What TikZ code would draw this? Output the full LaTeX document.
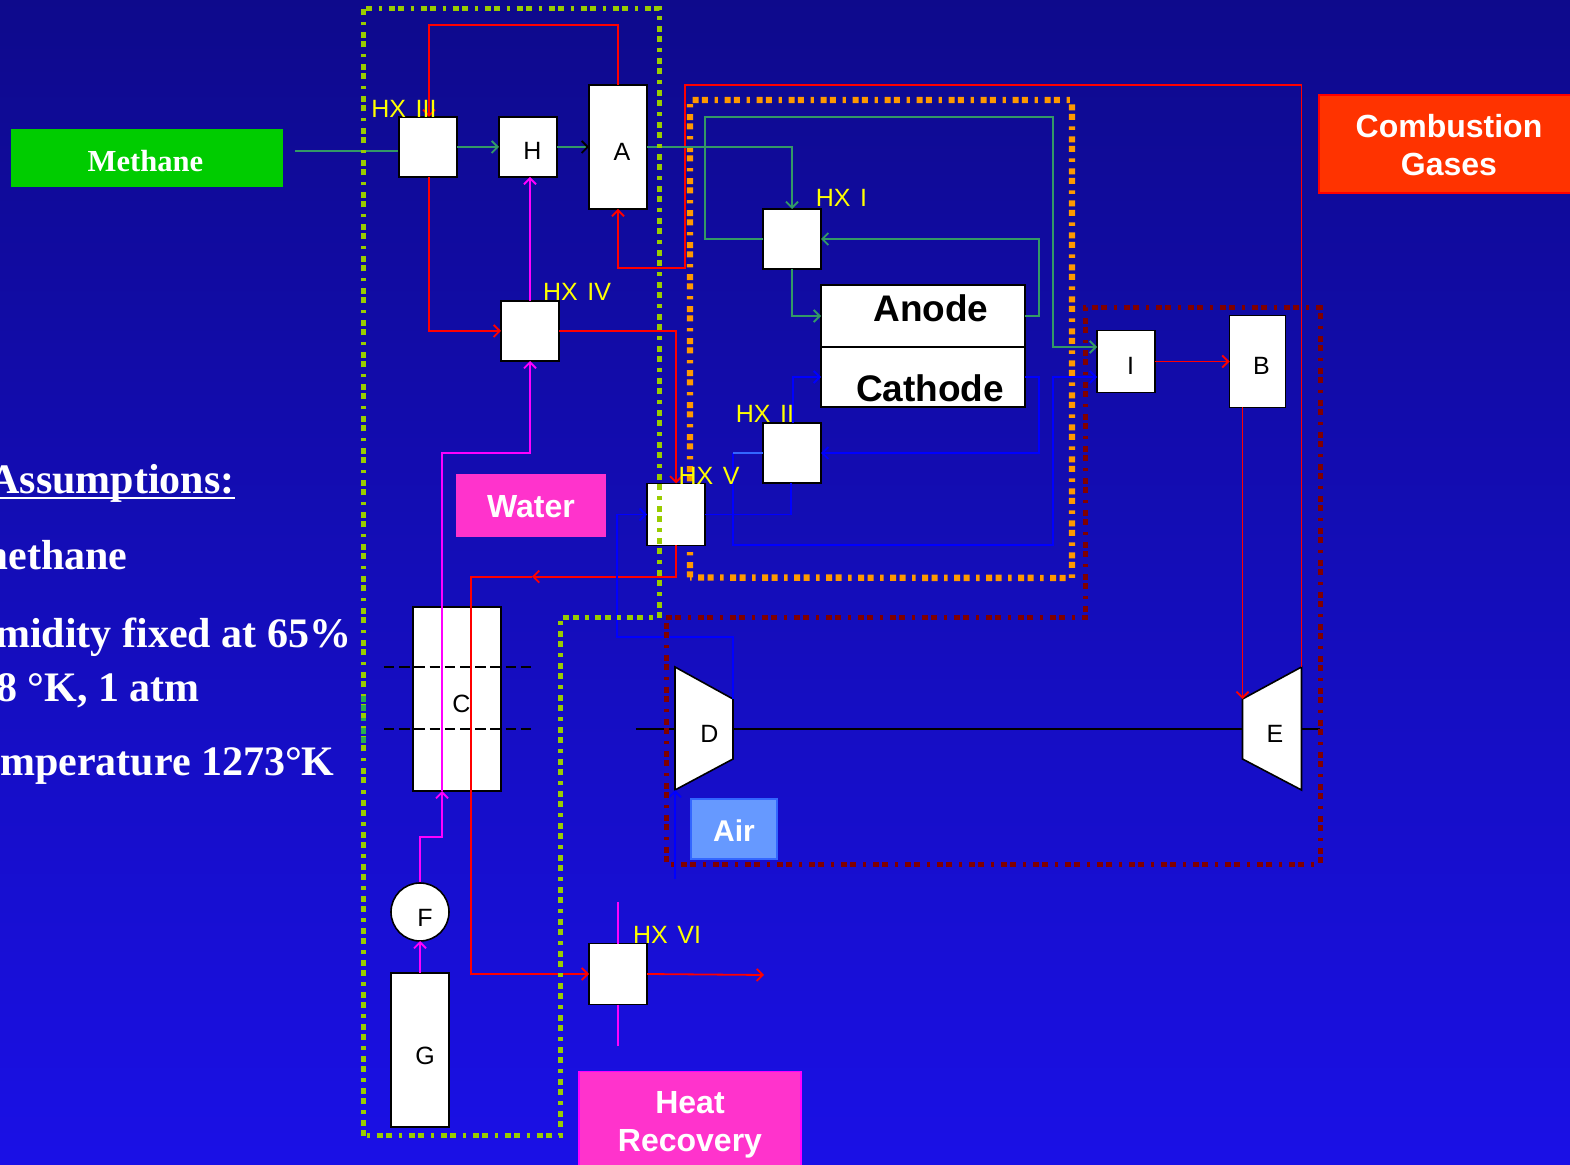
\documentclass[tikz,border=0pt]{standalone}
\usepackage{fontspec}
\setmainfont{Liberation Serif}
\setsansfont{Liberation Sans}
\usetikzlibrary{arrows.meta}
\definecolor{bgtop}{HTML}{0E0A8C}
\definecolor{bgbot}{HTML}{1A10E6}
\definecolor{fgreen}{HTML}{99CC00}
\definecolor{forange}{HTML}{FF9900}
\definecolor{fdark}{HTML}{800000}
\definecolor{lgreen}{HTML}{339966}
\definecolor{lblue}{HTML}{0000FF}
\definecolor{lblue2}{HTML}{3366FF}
\definecolor{lmag}{HTML}{FF00FF}
\definecolor{hxyellow}{HTML}{FFFF00}
\definecolor{tagmeth}{HTML}{00CC00}
\definecolor{tagcomb}{HTML}{FF3300}
\definecolor{tagpink}{HTML}{FF33CC}
\definecolor{tagair}{HTML}{6699FF}
\newcommand{\hxsp}{\hspace{4.8pt}}
\tikzset{
  x=0.5pt,y=-0.5pt,
  tipb/.tip={Straight Barb[length=3pt,width=6pt]},
  box/.style={draw=black,fill=white,line width=0.8pt,inner sep=0pt,outer sep=0pt},
  ghost/.style={inner sep=0pt,outer sep=0pt},
  letter/.style={anchor=base,font=\sffamily\fontsize{12.5}{12.5}\selectfont,text=black,inner sep=0pt},
  cell/.style={anchor=base,font=\sffamily\bfseries\fontsize{18.5}{18.5}\selectfont,text=black,inner sep=0pt},
  hxl/.style={anchor=base,font=\sffamily\fontsize{12.5}{12.5}\selectfont,text=hxyellow,inner sep=0pt},
  tag/.style={inner sep=0pt,outer sep=0pt,align=center,text=white,line width=0.8pt,font=\sffamily\bfseries\fontsize{16}{19}\selectfont},
  note/.style={anchor=base east,font=\bfseries\fontsize{21}{21}\selectfont,text=white,inner sep=0pt},
  flow/.style={line width=0.9pt},
  redl/.style={flow,draw=red},
  greenl/.style={flow,draw=lgreen},
  bluel/.style={flow,draw=lblue},
  magl/.style={flow,draw=lmag},
  frameb/.style={line width=2.5pt,dash pattern=on 3pt off 1.67pt on 3pt off 3.33pt on 1.67pt off 3.33pt},
}
\begin{document}
\begin{tikzpicture}
\useasboundingbox (0,0) rectangle (1570,1165);
\clip (0,0) rectangle (1570,1165);
\shade[top color=bgtop,bottom color=bgbot] (0,0) rectangle (1570,1165);

% orange frame lies beneath the boxes
\draw[frameb,draw=forange,line width=3.2pt] (690,577.5) -- (690,100) -- (1072,100) -- (1072,578) -- cycle;

\node[box,minimum width=44pt,minimum height=92pt] (C) at (457,699) {};

% ghost nodes for turbines
\node[ghost,minimum width=29pt,minimum height=61.5pt] (D) at (704,728.5) {};
\node[ghost,minimum width=29.5pt,minimum height=61.5pt] (E) at (1272,728.5) {};

% shaft and cuts
\coordinate (shaftL) at (636,729);
\coordinate (shaftR) at (1320,729);
\draw[line width=0.9pt] (shaftL) -- (shaftR);
\coordinate (cutAL) at (384,667); \coordinate (cutAR) at (532,667);
\coordinate (cutBL) at (384,729); \coordinate (cutBR) at (532,729);
\draw[line width=0.8pt,dash pattern=on 5.2pt off 2.4pt] (cutAL) -- (cutAR);
\draw[line width=0.8pt,dash pattern=on 5.2pt off 2.4pt] (cutBL) -- (cutBR);

% boxes
\node[box,minimum width=29pt,minimum height=30pt] (hxiii) at (428,147) {};
\node[box,minimum width=29pt,minimum height=30pt] (H) at (528,147) {};
\node[box,minimum width=29pt,minimum height=62pt] (A) at (618,147) {};
\node[box,minimum width=29pt,minimum height=30pt] (hxiv) at (530,331) {};
\node[box,minimum width=29pt,minimum height=30pt] (hxi) at (792,239) {};
\node[box,minimum width=102pt,minimum height=31pt] (anode) at (923,316) {};
\node[box,minimum width=102pt,minimum height=30pt] (cathode) at (923,377) {};
\node[box,minimum width=29pt,minimum height=30pt] (hxii) at (792,453) {};
\node[box,minimum width=29pt,minimum height=31pt] (hxv) at (676,514.5) {};
\node[box,minimum width=29pt,minimum height=31pt] (I) at (1126,361.5) {};
\node[box,minimum width=28pt,minimum height=46pt] (B) at (1257.5,361.5) {};
\node[box,circle,minimum size=29pt] (F) at (420,912) {};
\node[box,minimum width=29pt,minimum height=77pt] (G) at (420,1050) {};
\node[box,minimum width=29pt,minimum height=30.5pt] (hxvi) at (618,974) {};
\draw[box] (D.north west) -- (D.east |- 0,699) -- (D.east |- 0,759) -- (D.south west) -- cycle;
\draw[box] (E.north east) -- (E.west |- 0,699) -- (E.west |- 0,759) -- (E.south east) -- cycle;

% ports
\coordinate (iTop) at (I.west |- 0,347);
\coordinate (iLow) at (I.west |- 0,377);
\coordinate (bOut) at (1242.5,407);
\coordinate (eIn) at (1242.5,699);
\coordinate (cIn) at (442,791);
\coordinate (hxvOut) at (764,975);
\coordinate (waterT) at (618,902);
\coordinate (waterB) at (618,1046);
\coordinate (ch4) at (295,151);
\coordinate (airIn) at (675,879);
\coordinate (dTop) at (D.east |- 0,699);
\coordinate (hxiiUp) at (793,423);
\coordinate (hxvDn) at (791,483);
\coordinate (fTop) at (420,882);

% red
\draw[redl,-{tipb}] (E.north east) -- (1301.5,85) -- (685,85) -- (685,268) -| (A.south);
\draw[redl,-{tipb}] (A.north) -- (618,25) -- (429,25) -- (429,117);
\draw[redl,-{tipb}] (429,177) -- (429,331) -- (hxiv.west);
\draw[redl,-{tipb}] (hxiv.east) -- (676,331) -- (hxv.north);
\draw[redl,-{tipb}] (hxv.south) -- (676,576.7) -- (532,576.7);
\draw[redl,-{tipb}] (532,576.7) -- (471,576.7) -- (471,974) -- (hxvi.west);
\draw[redl,-{tipb}] (hxvi.east) -- (hxvOut);
\draw[redl,-{tipb}] (I.east) -- (B.west);
\draw[redl,-{tipb}] (bOut) -- (eIn);

% green
\draw[greenl] (ch4) -- (398,151);
\draw[greenl,-{tipb}] (hxiii.east) -- (H.west);
\draw[greenl,-{tipb[black]}] (H.east) -- (A.west);
\draw[greenl,-{tipb}] (A.east) -| (hxi.north);
\draw[greenl,-{tipb}] (hxi.south) |- (anode.west);
\draw[greenl,-{tipb}] (anode.east) -- (1038.7,316) -- (1038.7,239) -- (hxi.east);
\draw[greenl,-{tipb}] (hxi.west) -- (705,239) -- (705,117) -- (1052.7,117) -- (1052.7,347) -- (iTop);

% magenta
\draw[magl,-{tipb}] (G.north) -- (F.south);
\draw[magl,-{tipb}] (fTop) -- (420,837) -- (442,837) -- (cIn);
\draw[magl,-{tipb}] (cIn) -- (442,453) -- (530,453) -- (hxiv.south);
\draw[magl,-{tipb}] (hxiv.north) -- (hxiv.north |- H.south);
\draw[magl] (waterT) -- (hxvi.north);
\draw[magl] (hxvi.south) -- (waterB);

% blue
\draw[bluel,-{tipb}] (airIn) -- (D.south west);
\draw[bluel,-{tipb}] (dTop) -- (733,637) -- (617,637) -- (617,514.5) -- (hxv.west);
\draw[bluel] (hxv.east) -- (791,514.5) -- (hxvDn);
\draw[bluel,-{tipb}] (hxiiUp) -- (793,377) -- (cathode.west);
\draw[bluel,-{tipb}] (cathode.east) -- (1038.7,377) -- (1038.7,453) -- (hxii.east);
\draw[bluel,-{tipb}] (733,453) -- (733,545) -- (1052.7,545) -- (1052.7,377) -- (iLow);
\draw[flow,draw=lblue2] (hxii.west) -- (733,453);

% dotted frames
\draw[frameb,draw=fdark] (666,618) -- (1085,618) -- (1085,308) -- (1320,308) -- (1320,864) -- (666,864) -- cycle;
\draw[frameb,draw=fgreen] (363,1135.5) -- (363,9) -- (659,9) -- (659,618) -- (560,618) -- (560,1135.5) -- cycle;
\draw[frameb,draw=lgreen!80!green] (363,696) -- (363,745);

% coloured tags
\node[tag,fill=tagmeth,minimum width=136pt,minimum height=29pt,font=\rmfamily\bfseries\fontsize{15.3}{15.3}\selectfont] (methane) at (147,158) {\hspace{-1.5pt}\rule{0pt}{13.3pt}Methane};
\node[tag,fill=tagcomb,draw=red,minimum width=130pt,minimum height=49pt] (comb) at (1449,144) {\rule{0pt}{12.7pt}Combustion\\Gases};
\node[tag,fill=tagpink,draw=tagpink,minimum width=74.5pt,minimum height=30.5pt] (water) at (531,505.5) {\rule{0pt}{12.5pt}Water};
\node[tag,fill=tagair,draw=lblue2,minimum width=43pt,minimum height=30pt,font=\sffamily\bfseries\fontsize{15}{15}\selectfont] (air) at (734,829) {\rule{0pt}{12.7pt}Air};
\node[tag,fill=tagpink,draw=lmag,minimum width=111pt,minimum height=53.25pt] (heat) at (690,1124.75) {Heat\\Recovery};

% box letters
\node[letter] (tH) at (532.5,160) {H};
\node[letter] (tA) at (622,161) {A};
\node[letter] (tI) at (1130.5,375) {I};
\node[letter] (tB) at (1261.5,375) {B};
\node[letter] (tC) at (461.5,712.5) {C};
\node[letter] (tD) at (709.5,742.5) {D};
\node[letter] (tE) at (1275,742.5) {E};
\node[letter] (tF) at (425,926) {F};
\node[letter] (tG) at (425,1064) {G};
\node[cell] (tAn) at (931,322) {Anode};
\node[cell] (tCa) at (930,402) {Cathode};

% heat-exchanger labels
\node[hxl] (lIII) at (404,117.5) {HX\hxsp III};
\node[hxl] (lIV) at (577,301) {HX\hxsp IV};
\node[hxl] (lI) at (841.5,207) {HX\hxsp I};
\node[hxl] (lII) at (765,423) {HX\hxsp II};
\node[hxl] (lV) at (709,485) {HX\hxsp V};
\node[hxl] (lVI) at (667,943) {HX\hxsp VI};

% left-hand text
\node[note] (n1) at (235,494) {Assumptions:};
\draw[white,line width=1pt] (n1.west |- 0,498.5) -- (n1.east |- 0,498.5);
\node[note] (n2) at (128,570) {methane};
\node[note] (n3) at (351.5,648) {midity fixed at 65\%};
\node[note] (n4) at (200,701.5) {8 °K, 1 atm};
\node[note] (n5) at (335,776) {mperature 1273°K};
\end{tikzpicture}
\end{document}
